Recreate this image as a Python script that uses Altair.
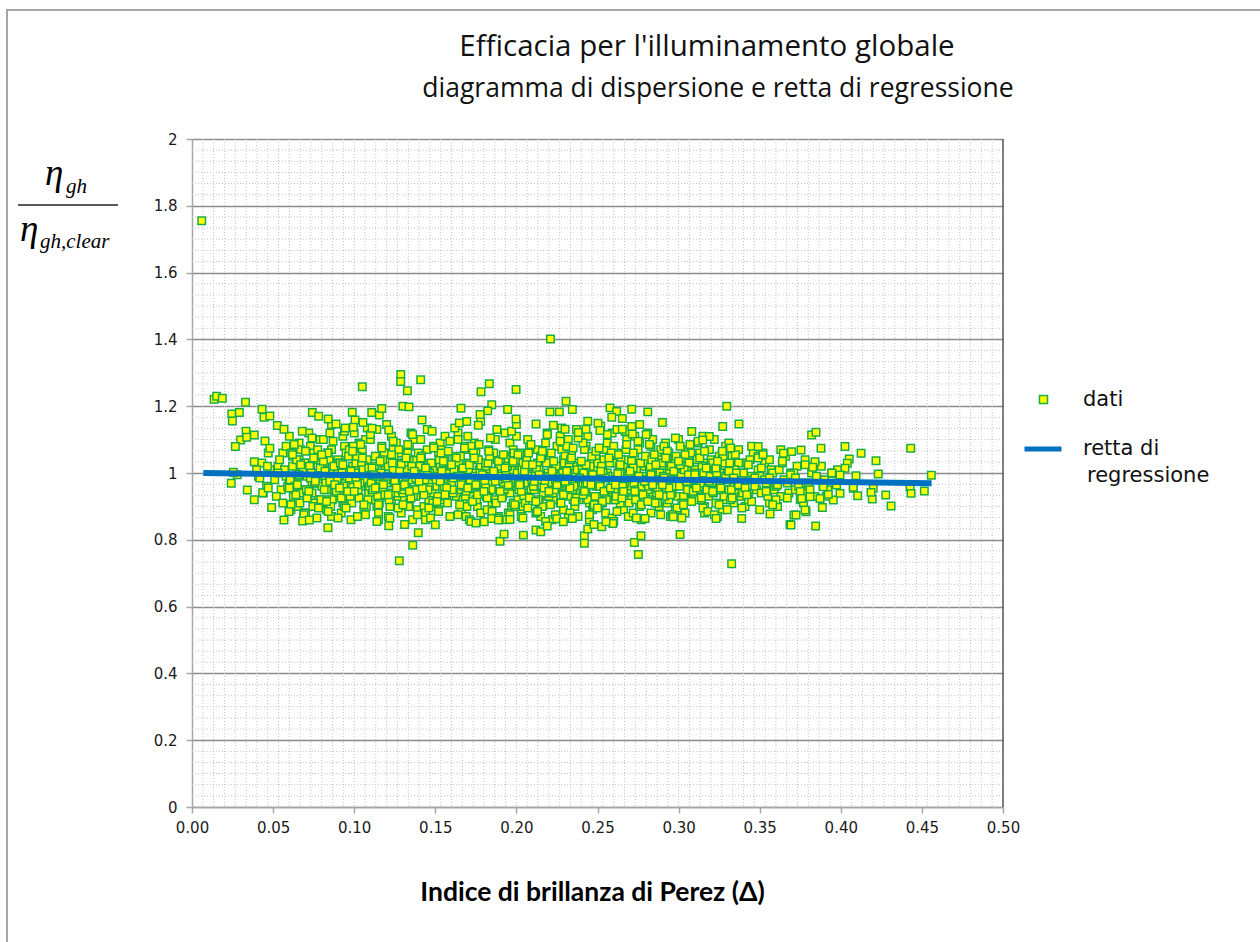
import altair as alt
import pandas as pd

# ---------------- data ----------------
x_core = [
    0.041,0.043,0.046,0.048,0.044,0.047,
    0.051,0.053,0.055,0.056,0.058,0.052,0.057,0.059,0.054,0.056,0.058,0.053,
    0.060,0.062,0.063,0.065,0.066,0.068,0.069,0.061,0.064,0.067,0.069,0.062,0.065,0.068,0.060,0.063,0.066,0.069,
    0.070,0.071,0.073,0.074,0.076,0.077,0.079,0.072,0.075,0.078,0.070,0.073,0.076,0.079,0.071,0.074,0.077,0.072,0.075,0.078,
    0.080,0.082,0.083,0.085,0.086,0.088,0.089,0.081,0.084,0.087,0.080,0.083,0.086,0.089,0.082,0.085,0.088,0.081,0.084,0.087,
    0.090,0.091,0.093,0.094,0.096,0.097,0.099,0.092,0.095,0.098,0.090,0.093,0.096,0.099,0.091,0.094,0.097,0.092,0.095,0.098,
    0.100,0.102,0.103,0.105,0.106,0.108,0.109,0.101,0.104,0.107,0.100,0.103,0.106,0.109,0.102,0.105,0.108,0.101,0.104,0.107,
    0.110,0.111,0.113,0.114,0.116,0.117,0.119,0.112,0.115,0.118,0.110,0.113,0.116,0.119,0.111,0.114,0.117,0.112,0.115,0.118,
    0.120,0.122,0.123,0.125,0.126,0.128,0.129,0.121,0.124,0.127,0.120,0.123,0.126,0.129,0.122,0.125,0.128,0.121,0.124,0.127,
    0.130,0.131,0.133,0.134,0.136,0.137,0.139,0.132,0.135,0.138,0.130,0.133,0.136,0.139,0.131,0.134,0.137,0.132,0.135,0.138,
    0.140,0.142,0.143,0.145,0.146,0.148,0.149,0.141,0.144,0.147,0.140,0.143,0.146,0.149,0.142,0.145,0.148,0.141,0.144,0.147,
    0.150,0.151,0.153,0.154,0.156,0.157,0.159,0.152,0.155,0.158,0.150,0.153,0.156,0.159,0.151,0.154,0.157,0.152,0.155,0.158,
    0.160,0.162,0.163,0.165,0.166,0.168,0.169,0.161,0.164,0.167,0.160,0.163,0.166,0.169,0.162,0.165,0.168,0.161,0.164,0.167,
    0.170,0.171,0.173,0.174,0.176,0.177,0.179,0.172,0.175,0.178,0.170,0.173,0.176,0.179,0.171,0.174,0.177,0.172,0.175,0.178,
    0.180,0.182,0.183,0.185,0.186,0.188,0.189,0.181,0.184,0.187,0.180,0.183,0.186,0.189,0.182,0.185,0.188,0.181,0.184,0.187,
    0.190,0.191,0.193,0.194,0.196,0.197,0.199,0.192,0.195,0.198,0.190,0.193,0.196,0.199,0.191,0.194,0.197,0.192,0.195,0.198,
    0.200,0.202,0.203,0.205,0.206,0.208,0.209,0.201,0.204,0.207,0.200,0.203,0.206,0.209,0.202,0.205,0.208,0.201,0.204,0.207,
    0.210,0.211,0.213,0.214,0.216,0.217,0.219,0.212,0.215,0.218,0.210,0.213,0.216,0.219,0.211,0.214,0.217,0.212,0.215,0.218,
    0.220,0.222,0.223,0.225,0.226,0.228,0.229,0.221,0.224,0.227,0.220,0.223,0.226,0.229,0.222,0.225,0.228,0.221,0.224,0.227,
    0.230,0.231,0.233,0.234,0.236,0.237,0.239,0.232,0.235,0.238,0.230,0.233,0.236,0.239,0.231,0.234,0.237,0.232,0.235,0.238,
    0.240,0.242,0.243,0.245,0.246,0.248,0.249,0.241,0.244,0.247,0.240,0.243,0.246,0.249,0.242,0.245,0.248,0.241,0.244,0.247,
    0.250,0.251,0.253,0.254,0.256,0.257,0.259,0.252,0.255,0.258,0.250,0.253,0.256,0.259,0.251,0.254,0.257,0.252,0.255,0.258,
    0.260,0.262,0.263,0.265,0.266,0.268,0.269,0.261,0.264,0.267,0.260,0.263,0.266,0.269,0.262,0.265,0.268,0.261,0.264,0.267,
    0.270,0.271,0.273,0.274,0.276,0.277,0.279,0.272,0.275,0.278,0.270,0.273,0.276,0.279,0.271,0.274,0.277,0.272,0.275,0.278,
    0.280,0.282,0.283,0.285,0.286,0.288,0.289,0.281,0.284,0.287,0.280,0.283,0.286,0.289,0.282,0.285,0.288,0.281,0.284,0.287,
    0.290,0.291,0.293,0.294,0.296,0.297,0.299,0.292,0.295,0.298,0.290,0.293,0.296,0.299,0.291,0.294,0.297,0.292,0.295,0.298,
    0.300,0.302,0.303,0.305,0.306,0.308,0.309,0.301,0.304,0.307,0.300,0.303,0.306,0.309,0.302,0.305,0.308,0.301,0.304,0.307,
    0.310,0.311,0.313,0.314,0.316,0.317,0.319,0.312,0.315,0.318,0.310,0.313,0.316,0.319,0.311,0.314,0.317,0.312,0.315,0.318,
    0.320,0.322,0.323,0.325,0.326,0.328,0.329,0.321,0.324,0.327,0.320,0.323,0.326,0.329,0.322,0.325,0.328,0.321,0.324,0.327,
    0.330,0.331,0.333,0.334,0.336,0.337,0.339,0.332,0.335,0.338,0.330,0.333,0.336,0.339,0.331,0.334,0.337,0.332,
    0.340,0.342,0.343,0.345,0.346,0.348,0.349,0.341,0.344,0.347,0.340,0.343,0.346,0.349,0.342,0.345,
    0.350,0.351,0.353,0.354,0.356,0.357,0.359,0.352,0.355,0.358,0.350,0.353,0.356,0.359,
    0.360,0.362,0.363,0.365,0.366,0.368,0.369,0.361,0.364,0.367,0.360,0.363,
    0.370,0.372,0.373,0.375,0.376,0.378,0.379,0.371,0.374,0.377,
    0.380,0.382,0.384,0.386,0.388,0.381,0.385,0.389,
    0.390,0.392,0.395,0.397,0.391,0.398,
]
y_core = [
    0.99,1.03,0.96,1.01,0.94,1.06,
    0.98,1.02,0.95,1.06,0.99,0.93,1.01,0.96,1.04,0.91,1.08,1.00,
    0.97,1.05,0.92,1.00,1.09,0.95,1.03,0.89,0.99,1.07,0.94,1.02,0.90,1.00,1.11,0.96,1.04,0.88,
    1.01,0.93,1.08,0.97,0.90,1.04,0.99,0.95,1.06,0.92,0.88,1.02,0.97,1.10,0.99,0.94,1.00,1.12,0.91,1.05,
    0.96,1.03,0.89,1.00,1.07,0.94,1.01,1.10,0.92,0.98,1.05,0.95,0.87,1.03,0.99,1.12,0.93,0.91,1.06,1.00,
    1.04,0.97,0.91,1.08,0.99,0.94,1.02,0.88,1.06,0.96,1.00,1.11,0.93,0.98,1.03,0.90,1.07,0.95,1.01,0.86,
    0.93,1.01,1.09,0.97,0.89,1.04,0.95,1.00,1.06,0.91,1.12,0.98,1.02,0.94,0.87,1.07,0.99,1.03,0.96,1.10,
    1.00,0.94,1.05,0.90,0.98,1.08,1.02,0.96,0.88,1.03,1.10,0.92,0.99,1.06,0.97,1.13,0.93,1.01,0.86,0.95,
    0.97,1.04,0.91,1.00,1.09,0.95,0.88,1.02,1.07,0.93,0.99,1.11,0.96,1.03,0.90,0.98,1.06,0.87,1.01,0.94,
    1.02,0.92,0.99,1.08,0.95,1.04,0.89,0.97,1.12,1.00,0.94,1.06,0.86,0.98,1.03,0.91,1.10,0.96,1.01,0.93,
    0.95,1.03,0.90,1.07,0.99,0.93,1.01,1.10,0.88,0.97,1.05,1.00,0.92,1.08,0.96,1.13,0.94,1.02,0.86,0.98,
    1.01,0.96,1.09,0.92,1.04,0.98,0.87,1.06,0.94,1.00,0.90,1.02,1.11,0.95,0.99,1.07,0.93,0.89,1.03,0.97,
    0.98,1.05,0.93,1.00,0.89,1.08,0.96,1.02,1.12,0.91,0.97,1.04,0.95,0.87,1.01,0.99,1.07,0.94,1.10,0.92,
    1.03,0.95,0.99,1.09,0.90,1.01,0.94,0.97,1.06,0.88,1.11,0.93,1.04,0.98,0.86,1.00,0.96,1.08,0.92,1.02,
    0.94,1.00,1.07,0.91,0.98,1.04,0.87,1.02,0.96,1.10,0.99,0.93,1.06,1.01,0.89,0.95,1.13,1.03,0.97,0.92,
    1.00,0.93,1.05,0.97,1.09,0.90,1.02,0.95,0.88,1.07,0.98,1.12,0.94,1.03,0.99,0.86,1.01,0.96,1.04,0.91,
    0.96,1.04,0.89,1.01,0.94,1.08,0.99,0.92,1.03,0.97,1.11,0.87,1.00,0.95,1.06,0.93,1.02,0.98,0.90,1.10,
    1.02,0.95,1.07,0.91,0.99,1.04,0.93,1.00,0.87,1.09,0.97,1.03,0.90,1.12,0.96,1.01,0.94,0.88,1.05,0.98,
    0.97,1.03,0.92,1.08,1.00,0.95,0.89,1.05,0.98,1.11,0.93,1.01,0.96,1.04,0.86,0.99,1.07,0.94,1.02,0.91,
    1.01,0.94,0.99,1.06,0.90,1.03,0.96,1.10,0.92,0.98,1.05,0.88,1.00,0.95,1.08,0.97,1.13,0.93,1.02,0.87,
    0.95,1.02,1.08,0.91,0.99,0.93,1.05,0.97,1.11,0.89,1.00,0.94,1.03,0.96,1.07,0.86,1.01,1.09,0.92,0.98,
    1.03,0.96,0.91,1.07,1.00,0.94,1.12,0.98,0.88,1.05,0.93,1.01,1.09,0.97,0.90,1.04,0.95,1.14,0.99,0.92,
    0.98,1.06,0.93,1.01,0.89,1.10,0.96,1.03,0.91,0.99,1.08,0.95,1.02,0.87,1.13,0.97,1.04,0.92,1.00,0.94,
    1.00,0.92,1.05,0.97,1.09,0.94,1.02,0.88,1.07,0.99,0.95,1.11,0.90,1.03,0.96,1.01,0.86,1.06,0.93,0.98,
    0.94,1.01,1.08,0.96,1.03,0.90,0.99,1.12,0.93,1.05,0.97,0.88,1.00,1.07,0.92,0.98,1.04,0.95,1.10,0.91,
    1.02,0.95,0.91,1.06,0.98,1.03,0.93,1.09,0.97,0.89,1.00,1.05,0.94,0.99,1.08,0.92,1.01,0.96,0.87,1.04,
    0.97,1.04,0.92,1.00,1.07,0.94,0.99,0.89,1.02,0.96,1.10,0.93,1.05,0.98,0.91,1.01,0.95,1.08,0.88,1.03,
    1.01,0.94,1.06,0.97,0.90,1.03,0.99,1.09,0.93,1.00,0.96,1.04,0.88,1.07,0.98,0.92,1.02,0.95,1.11,0.97,
    0.96,1.02,0.91,1.05,0.99,0.94,1.08,0.97,1.01,0.89,1.04,0.95,1.00,0.92,1.10,0.98,0.93,1.03,0.87,1.06,
    1.00,0.95,1.04,0.91,0.98,1.07,0.93,1.02,0.96,1.00,0.89,1.05,0.94,0.99,1.09,0.97,1.03,0.92,
    0.97,1.03,0.93,0.99,1.06,0.95,1.01,0.90,1.04,0.96,1.00,0.92,0.98,1.05,0.94,1.08,
    0.99,0.94,1.03,0.97,0.91,1.01,0.96,1.06,0.93,1.00,0.89,0.98,1.04,0.95,
    0.96,1.01,0.93,0.98,1.05,0.94,1.00,0.90,1.03,0.97,0.92,1.07,
    0.99,0.95,1.02,0.92,0.97,1.04,0.94,1.00,0.96,0.91,
    0.97,1.00,0.93,0.98,1.02,0.95,0.99,0.96,
    0.98,0.95,1.00,0.97,0.93,1.01,
]

x_dense = [
    0.0605,0.0625,0.0645,0.0665,0.0685,0.0615,0.0635,0.0655,0.0675,0.0695,
    0.0705,0.0725,0.0745,0.0765,0.0785,0.0715,0.0735,0.0755,0.0775,0.0795,
    0.0805,0.0825,0.0845,0.0865,0.0885,0.0815,0.0835,0.0855,0.0875,0.0895,
    0.0905,0.0925,0.0945,0.0965,0.0985,0.0915,0.0935,0.0955,0.0975,0.0995,
    0.1005,0.1025,0.1045,0.1065,0.1085,0.1015,0.1035,0.1055,0.1075,0.1095,
    0.1105,0.1125,0.1145,0.1165,0.1185,0.1115,0.1135,0.1155,0.1175,0.1195,
    0.1205,0.1225,0.1245,0.1265,0.1285,0.1215,0.1235,0.1255,0.1275,0.1295,
    0.1305,0.1325,0.1345,0.1365,0.1385,0.1315,0.1335,0.1355,0.1375,0.1395,
    0.1405,0.1425,0.1445,0.1465,0.1485,0.1415,0.1435,0.1455,0.1475,0.1495,
    0.1505,0.1525,0.1545,0.1565,0.1585,0.1515,0.1535,0.1555,0.1575,0.1595,
    0.1605,0.1625,0.1645,0.1665,0.1685,0.1615,0.1635,0.1655,0.1675,0.1695,
    0.1705,0.1725,0.1745,0.1765,0.1785,0.1715,0.1735,0.1755,0.1775,0.1795,
    0.1805,0.1825,0.1845,0.1865,0.1885,0.1815,0.1835,0.1855,0.1875,0.1895,
    0.1905,0.1925,0.1945,0.1965,0.1985,0.1915,0.1935,0.1955,0.1975,0.1995,
    0.2005,0.2025,0.2045,0.2065,0.2085,0.2015,0.2035,0.2055,0.2075,0.2095,
    0.2105,0.2125,0.2145,0.2165,0.2185,0.2115,0.2135,0.2155,0.2175,0.2195,
    0.2205,0.2225,0.2245,0.2265,0.2285,0.2215,0.2235,0.2255,0.2275,0.2295,
    0.2305,0.2325,0.2345,0.2365,0.2385,0.2315,0.2335,0.2355,0.2375,0.2395,
    0.2405,0.2425,0.2445,0.2465,0.2485,0.2415,0.2435,0.2455,0.2475,0.2495,
    0.2505,0.2525,0.2545,0.2565,0.2585,0.2515,0.2535,0.2555,0.2575,0.2595,
    0.2605,0.2625,0.2645,0.2665,0.2685,0.2615,0.2635,0.2655,0.2675,0.2695,
    0.2705,0.2725,0.2745,0.2765,0.2785,0.2715,0.2735,0.2755,0.2775,0.2795,
    0.2805,0.2825,0.2845,0.2865,0.2885,0.2815,0.2835,0.2855,0.2875,0.2895,
    0.2905,0.2925,0.2945,0.2965,0.2985,0.2915,0.2935,0.2955,0.2975,0.2995,
    0.3005,0.3025,0.3045,0.3065,0.3085,0.3015,0.3035,0.3055,0.3075,0.3095,
    0.3105,0.3125,0.3145,0.3165,0.3185,0.3115,0.3135,0.3155,0.3175,0.3195,
    0.3205,0.3225,0.3245,0.3265,0.3285,0.3215,0.3235,0.3255,0.3275,0.3295,
    0.3305,0.3325,0.3345,0.3365,0.3385,0.3315,0.3335,0.3355,0.3375,0.3395,
]
y_dense = [
    0.98,0.93,1.04,0.91,1.01,1.06,0.96,0.99,0.94,1.03,
    0.95,1.02,0.90,0.99,1.05,0.93,1.00,0.97,1.07,0.92,
    1.01,0.97,1.04,0.92,0.99,0.95,1.06,0.90,1.02,0.98,
    0.94,1.00,0.97,1.05,0.91,1.03,0.96,0.99,0.93,1.08,
    1.00,0.95,1.03,0.98,0.92,1.05,0.97,1.01,0.90,0.96,
    0.97,1.02,0.93,1.00,1.06,0.95,0.99,0.91,1.04,0.98,
    0.99,0.94,1.05,0.96,1.01,0.92,1.03,0.97,1.07,0.95,
    0.96,1.01,0.98,0.93,1.04,0.99,0.90,1.02,0.95,1.06,
    1.02,0.97,0.94,1.00,0.91,1.05,0.98,0.95,1.03,0.99,
    0.98,1.04,0.95,0.99,1.01,0.93,1.06,0.96,0.91,1.02,
    0.95,1.00,1.03,0.97,0.93,1.01,0.99,1.05,0.96,0.90,
    1.01,0.96,0.99,1.04,0.94,0.98,1.06,0.92,1.00,0.97,
    0.97,1.03,0.95,1.00,0.98,0.93,1.05,0.99,0.91,1.02,
    0.99,0.95,1.02,0.97,1.06,0.93,1.00,0.96,1.03,0.90,
    1.00,0.97,0.93,1.04,0.99,0.95,1.01,0.91,1.06,0.98,
    0.96,1.01,0.98,0.94,1.03,0.99,0.92,1.05,0.97,1.00,
    0.99,0.94,1.02,0.97,1.00,1.06,0.95,0.98,0.91,1.03,
    0.97,1.03,0.95,1.00,0.92,0.98,1.04,0.96,1.01,0.94,
    1.01,0.96,0.99,1.05,0.93,1.00,0.97,1.02,0.90,0.98,
    0.98,1.02,0.94,0.99,1.06,0.96,1.00,0.92,1.03,0.97,
    0.95,1.00,1.04,0.97,0.99,0.93,1.02,0.96,1.07,0.91,
    1.00,0.97,0.95,1.03,0.98,1.01,0.92,0.99,0.96,1.05,
    0.97,1.02,0.99,0.94,1.00,0.96,1.04,0.91,0.98,1.03,
    0.99,0.95,1.01,0.97,1.05,0.93,0.98,1.02,0.96,1.00,
    0.96,1.00,0.98,1.03,0.94,0.99,1.01,0.95,1.06,0.92,
    1.00,0.96,1.02,0.98,0.93,1.04,0.97,1.00,0.95,0.99,
    0.97,1.01,0.95,0.99,1.03,0.94,1.00,0.96,1.05,0.98,
    0.99,0.95,1.01,0.97,0.93,1.03,0.98,1.00,0.96,0.94,
]

x_fill = [
    0.061,0.063,0.065,0.067,0.069,0.062,0.064,0.066,0.068,0.060,
    0.071,0.073,0.075,0.077,0.079,0.072,0.074,0.076,0.078,0.070,
    0.081,0.083,0.085,0.087,0.089,0.082,0.084,0.086,0.088,0.080,
    0.091,0.093,0.095,0.097,0.099,0.092,0.094,0.096,0.098,0.090,
    0.101,0.103,0.105,0.107,0.109,0.102,0.104,0.106,0.108,0.100,
    0.111,0.113,0.115,0.117,0.119,0.112,0.114,0.116,0.118,0.110,
    0.121,0.123,0.125,0.127,0.129,0.122,0.124,0.126,0.128,0.120,
    0.131,0.133,0.135,0.137,0.139,0.132,0.134,0.136,0.138,0.130,
    0.141,0.143,0.145,0.147,0.149,0.142,0.144,0.146,0.148,0.140,
    0.151,0.153,0.155,0.157,0.159,0.152,0.154,0.156,0.158,0.150,
    0.161,0.163,0.165,0.167,0.169,0.162,0.164,0.166,0.168,0.160,
    0.171,0.173,0.175,0.177,0.179,0.172,0.174,0.176,0.178,0.170,
    0.181,0.183,0.185,0.187,0.189,0.182,0.184,0.186,0.188,0.180,
    0.191,0.193,0.195,0.197,0.199,0.192,0.194,0.196,0.198,0.190,
    0.201,0.203,0.205,0.207,0.209,0.202,0.204,0.206,0.208,0.200,
    0.211,0.213,0.215,0.217,0.219,0.212,0.214,0.216,0.218,0.210,
    0.221,0.223,0.225,0.227,0.229,0.222,0.224,0.226,0.228,0.220,
    0.231,0.233,0.235,0.237,0.239,0.232,0.234,0.236,0.238,0.230,
    0.241,0.243,0.245,0.247,0.249,0.242,0.244,0.246,0.248,0.240,
    0.251,0.253,0.255,0.257,0.259,0.252,0.254,0.256,0.258,0.250,
    0.261,0.263,0.265,0.267,0.269,0.262,0.264,0.266,0.268,0.260,
    0.271,0.273,0.275,0.277,0.279,0.272,0.274,0.276,0.278,0.270,
    0.281,0.283,0.285,0.287,0.289,0.282,0.284,0.286,0.288,0.280,
    0.291,0.293,0.295,0.297,0.299,0.292,0.294,0.296,0.298,0.290,
    0.301,0.303,0.305,0.307,0.309,0.302,0.304,0.306,0.308,0.300,
    0.311,0.313,0.315,0.317,0.319,0.312,0.314,0.316,0.318,0.310,
    0.321,0.323,0.325,0.327,0.329,0.322,0.324,0.326,
    0.331,0.333,0.335,0.337,0.339,0.332,0.334,
    0.341,0.343,0.345,0.347,0.349,0.342,
    0.351,0.354,0.356,0.358,0.352,
    0.361,0.364,0.367,0.369,
    0.372,0.375,0.378,
]
y_fill = [
    0.905,1.085,0.965,1.025,0.875,1.055,0.935,0.995,1.125,0.955,
    0.925,0.985,1.045,0.865,1.015,0.945,1.105,0.975,0.895,1.065,
    1.035,0.915,0.975,1.095,0.945,1.005,0.885,1.145,0.965,1.055,
    0.955,1.025,0.895,0.985,1.065,0.925,1.125,0.945,1.005,0.865,
    0.985,0.925,1.045,0.875,1.015,0.965,1.085,0.905,1.135,0.945,
    1.015,0.955,0.905,1.075,0.935,0.995,0.855,1.035,0.965,1.115,
    0.935,1.055,0.975,0.895,1.025,0.865,1.095,0.955,1.005,1.145,
    0.965,1.085,0.925,1.005,0.875,1.045,0.945,1.115,0.985,0.905,
    1.045,0.935,0.995,0.865,1.075,0.955,1.015,0.895,1.125,0.975,
    0.915,0.975,1.035,0.955,1.095,0.885,1.005,0.935,1.065,0.845,
    0.985,1.045,0.905,1.015,0.945,1.135,0.875,0.965,1.075,1.025,
    1.025,0.915,0.965,1.085,0.995,0.855,1.045,0.935,1.155,0.955,
    0.955,1.065,0.885,0.975,1.035,0.925,1.105,1.005,0.865,0.945,
    0.925,1.015,0.965,1.125,0.905,1.055,0.985,0.875,1.035,0.945,
    1.055,0.945,1.005,0.895,1.085,0.965,0.865,1.025,0.925,1.145,
    0.975,0.885,1.045,0.955,1.115,0.915,0.995,1.065,0.855,1.025,
    0.905,1.035,0.965,1.095,0.935,1.005,0.875,0.985,1.135,0.945,
    1.005,0.955,1.075,0.925,0.985,0.865,1.045,0.915,1.105,0.975,
    0.935,1.025,0.875,0.995,1.065,0.945,1.155,0.965,0.905,1.035,
    1.075,0.915,0.985,1.045,0.865,1.005,0.945,1.115,0.955,0.895,
    0.965,1.055,0.925,1.125,0.985,0.885,1.025,0.945,1.085,0.855,
    1.035,0.945,1.095,0.905,0.975,1.015,0.865,1.145,0.935,1.005,
    0.915,0.995,1.055,0.955,0.875,1.085,0.965,1.025,0.935,1.115,
    0.985,1.065,0.935,1.005,0.895,1.045,0.955,0.875,1.105,0.965,
    1.025,0.905,0.975,1.085,0.945,0.865,1.055,0.995,0.915,1.035,
    0.955,1.045,0.895,1.015,0.975,1.095,0.925,1.065,0.885,0.995,
    0.945,1.015,0.905,1.065,0.985,0.875,1.035,0.955,
    1.005,0.925,1.055,0.965,0.895,1.075,0.985,
    0.955,1.025,0.915,0.985,1.045,0.935,
    1.015,0.945,0.985,0.905,1.055,
    0.965,1.035,0.925,0.995,
    0.985,0.945,1.025,
]

x_out = [
    0.006,0.221,0.0136,0.0152,0.0187,0.033,0.0245,0.0292,0.0249,0.0432,
    0.0444,0.048,0.0526,0.0567,0.0333,0.030,0.0267,0.0384,0.0337,0.045,
    0.048,0.0384,0.0242,0.0341,0.0384,0.0436,0.0491,0.0567,0.0598,0.0682,
    0.0723,0.0838,0.105,0.0742,0.0781,0.0840,0.0888,0.0945,0.0988,0.1005,
    0.1054,0.1108,0.1155,0.1170,0.1110,0.0995,0.1213,0.1213,0.1287,0.1287,
    0.141,0.1328,0.130,0.1338,0.1418,0.1833,0.1782,0.1998,0.1658,0.1848,
    0.1823,0.1776,0.1946,0.1648,0.1694,0.1765,0.1998,0.2121,0.2207,0.2265,
    0.2306,0.2345,0.2228,0.230,0.2382,0.2429,0.1311,0.1395,0.1361,0.1278,
    0.1751,0.1802,0.1899,0.1924,0.2043,0.196,0.1848,0.1889,0.2121,0.215,
    0.2190,0.2249,0.2289,0.2345,0.2419,0.2419,0.244,0.2478,0.2577,0.2618,
    0.2653,0.2711,0.281,0.2588,0.3297,0.290,0.3081,0.3272,0.3372,0.3189,
    0.3149,0.2503,0.2515,0.2653,0.2711,0.2715,0.3491,0.3646,0.3697,0.2727,
    0.2768,0.2752,0.3009,0.3327,0.3231,0.3389,0.3564,0.3687,0.3711,0.2526,
    0.2594,0.2552,0.2793,0.2967,0.382,0.3847,0.3755,0.3878,0.4026,0.4125,
    0.4217,0.4431,0.4052,0.404,0.4026,0.4231,0.4094,0.3944,0.3841,0.3827,
    0.4558,0.4077,0.42,0.4104,0.4194,0.4277,0.431,0.4427,0.4433,0.4515,
    0.4186,0.3886,0.3786,0.378,0.3724,0.3845,0.3693,0.3954,0.3995,0.3923,
    0.3872,0.381,0.3759,0.3944,0.3995,0.4077,0.3974,0.3892,0.0279,0.0398,
    0.0418,0.0465,0.0470,0.0255,
]
y_out = [
    1.755,1.401,1.221,1.230,1.224,1.212,1.177,1.181,1.156,1.191,
    1.167,1.171,1.142,1.131,1.125,1.099,1.079,1.114,1.107,1.096,
    1.074,1.034,0.969,0.949,0.920,0.941,0.897,0.859,0.885,0.856,
    0.859,0.836,1.258,1.181,1.170,1.162,1.147,1.135,1.182,1.159,
    1.151,1.181,1.174,1.193,1.134,1.137,1.129,0.842,1.295,1.274,
    1.279,1.246,1.200,1.198,1.159,1.267,1.243,1.250,1.194,1.204,
    1.186,1.175,1.190,1.150,1.154,1.143,1.162,1.147,1.183,1.183,
    1.215,1.190,1.143,1.131,1.121,1.131,0.846,0.821,0.784,0.737,
    0.850,0.854,0.796,0.817,0.814,0.861,0.864,0.859,0.829,0.824,
    0.841,0.863,0.854,0.864,0.812,0.790,0.832,0.846,1.195,1.184,
    1.163,1.191,1.183,1.167,1.200,1.151,1.124,1.139,1.147,1.109,
    1.099,1.149,1.127,1.131,1.139,1.117,1.079,1.059,1.064,0.792,
    0.812,0.756,0.816,0.728,0.864,0.864,0.877,0.846,0.874,0.839,
    0.849,0.854,0.864,0.869,1.114,1.122,1.069,1.074,1.079,1.059,
    1.037,1.074,1.042,1.029,1.014,0.997,0.992,0.999,1.034,1.017,
    0.993,0.954,0.954,0.932,0.922,0.934,0.901,0.957,0.939,0.946,
    0.942,0.897,0.884,0.889,0.874,0.841,0.844,0.919,0.939,0.936,
    0.924,0.929,0.924,1.000,0.994,0.957,0.964,0.959,0.995,1.010,
    0.985,1.020,0.955,1.002,
]

reg_x = [0.007, 0.456]
reg_y = [1.000, 0.969]

x_ticks = [0.0, 0.05, 0.10, 0.15, 0.20, 0.25, 0.30, 0.35, 0.40, 0.45, 0.50]
y_ticks = [0.0, 0.2, 0.4, 0.6, 0.8, 1.0, 1.2, 1.4, 1.6, 1.8, 2.0]

title_text = "Efficacia per l'illuminamento globale"
subtitle_text = "diagramma di dispersione e retta di regressione"

# ---------------- tables ----------------
def pairs(xv, yv):
    n = min(len(xv), len(yv))
    return list(xv[:n]), list(yv[:n])

xa, ya = pairs(x_core, y_core)
xb, yb = pairs(x_dense, y_dense)
xc, yc = pairs(x_fill, y_fill)
xd, yd = pairs(x_out, y_out)
pts = pd.DataFrame({"x": xa + xb + xc + xd, "y": ya + yb + yc + yd})
pts["serie"] = "dati"
reg = pd.DataFrame({"x": reg_x, "y": reg_y, "serie": ["retta di regressione"] * 2})

gx = pd.DataFrame({"gx": [i / 150 for i in range(1, 75)]})
gy = pd.DataFrame({"gy": [i / 30 for i in range(1, 60) if i % 6 != 0]})
one = pd.DataFrame({"a": [0]})

W, H = 811, 668
xs = alt.Scale(domain=[0, 0.5], nice=False, zero=False)
ys = alt.Scale(domain=[0, 2], nice=False)

x_axis = alt.Axis(
    values=x_ticks, format=".2f", grid=False, labelFlush=False,
    domainColor="#a6a6a6", domainWidth=1.5, tickColor="#a6a6a6", tickWidth=1.5, tickSize=6,
    labelFont="DejaVu Sans", labelFontSize=15, labelColor="#1a1a1a", labelPadding=7,
    title="Indice di brillanza di Perez (Δ)", titleFont="Lato", titleFontSize=26.5,
    titleFontWeight="bold", titleColor="#000000", titlePadding=44, titleX=400,
)
y_axis = alt.Axis(
    values=y_ticks, format="~g", grid=True, gridColor="#8c8c8c", gridWidth=1.5,
    domainColor="#a6a6a6", domainWidth=1.5, tickColor="#a6a6a6", tickWidth=1.5, tickSize=6,
    labelFont="DejaVu Sans", labelFontSize=15, labelColor="#1a1a1a", labelPadding=9,
    labelFlush=False, title=None,
)

border = alt.Chart(one).mark_rect(fillOpacity=0, stroke="#a6a6a6", strokeWidth=2).encode(
    x=alt.value(-185), x2=alt.value(1200), y=alt.value(-129), y2=alt.value(900)
)

vgrid = alt.Chart(gx).mark_rule(color="#c4c4c4", strokeWidth=1, strokeDash=[1, 2]).encode(
    x=alt.X("gx:Q", scale=xs, axis=x_axis)
)
hgrid = alt.Chart(gy).mark_rule(color="#c4c4c4", strokeWidth=1, strokeDash=[1, 2]).encode(
    y=alt.Y("gy:Q", scale=ys, axis=y_axis)
)

points = alt.Chart(pts).mark_point(
    shape="square", filled=True, size=56, stroke="#19ad45", strokeWidth=1.5, opacity=1
).encode(
    x=alt.X("x:Q", scale=xs, axis=x_axis),
    y=alt.Y("y:Q", scale=ys, axis=y_axis),
    fill=alt.Fill(
        "serie:N",
        scale=alt.Scale(domain=["dati"], range=["#ffff00"]),
        legend=alt.Legend(
            orient="none", legendX=841, legendY=250, title=None, padding=0,
            symbolType="square", symbolSize=64, symbolStrokeColor="#19ad45",
            symbolStrokeWidth=1.5, labelFont="DejaVu Sans", labelFontSize=21,
            labelColor="#111111", labelOffset=29,
        ),
    ),
)

line = alt.Chart(reg).mark_line(strokeWidth=6, strokeCap="butt").encode(
    x=alt.X("x:Q", scale=xs, axis=x_axis),
    y=alt.Y("y:Q", scale=ys, axis=y_axis),
    stroke=alt.Stroke(
        "serie:N",
        scale=alt.Scale(domain=["retta di regressione"], range=["#0070c0"]),
        legend=alt.Legend(
            orient="none", legendX=830, legendY=289, title=None, padding=0,
            symbolType="stroke", symbolSize=1369, symbolStrokeWidth=5,
            labelFont="DejaVu Sans", labelFontSize=21, labelColor="#111111",
            labelOffset=19, labelExpr="'retta di'",
        ),
    ),
)
legend_line2 = alt.Chart(one).mark_text(
    text="regressione", font="DejaVu Sans", fontSize=21, color="#111111",
    align="left", baseline="alphabetic"
).encode(x=alt.value(895), y=alt.value(343))

right_edge = alt.Chart(one).mark_rule(color="#555555", strokeWidth=1.5).encode(
    x=alt.value(W), y=alt.value(0), y2=alt.value(H)
)

title_mark = alt.Chart(one).mark_text(
    text=title_text, font="Open Sans", fontSize=29.5, color="#111111", align="center", baseline="alphabetic"
).encode(x=alt.value(515), y=alt.value(-83))
subtitle_mark = alt.Chart(one).mark_text(
    text=subtitle_text, font="Open Sans", fontSize=26.5, color="#111111", align="center", baseline="alphabetic"
).encode(x=alt.value(526), y=alt.value(-42))

serif = dict(font="Liberation Serif", fontStyle="italic", color="#000000", align="left", baseline="alphabetic")
eta_num = alt.Chart(one).mark_text(text="η", fontSize=37, **serif).encode(x=alt.value(-147), y=alt.value(46))
gh_num = alt.Chart(one).mark_text(text="gh", fontSize=21, **serif).encode(x=alt.value(-126), y=alt.value(54))
frac = alt.Chart(one).mark_rule(color="#222222", strokeWidth=1.5).encode(
    x=alt.value(-174), x2=alt.value(-74), y=alt.value(66)
)
eta_den = alt.Chart(one).mark_text(text="η", fontSize=37, **serif).encode(x=alt.value(-172), y=alt.value(102))
gh_den = alt.Chart(one).mark_text(text="gh,clear", fontSize=21, **serif).encode(x=alt.value(-152), y=alt.value(109))

chart = alt.layer(
    border, vgrid, hgrid, points, line, right_edge, legend_line2,
    title_mark, subtitle_mark, eta_num, gh_num, frac, eta_den, gh_den
).resolve_legend(fill="independent", stroke="independent").properties(
    width=W, height=H,
    autosize=alt.AutoSizeParams(type="none"),
    padding={"left": 192, "top": 139, "right": 257, "bottom": 135},
    background="white",
).configure_view(stroke=None)

chart.save("out.html", embed_options={"renderer": "svg", "actions": False})
